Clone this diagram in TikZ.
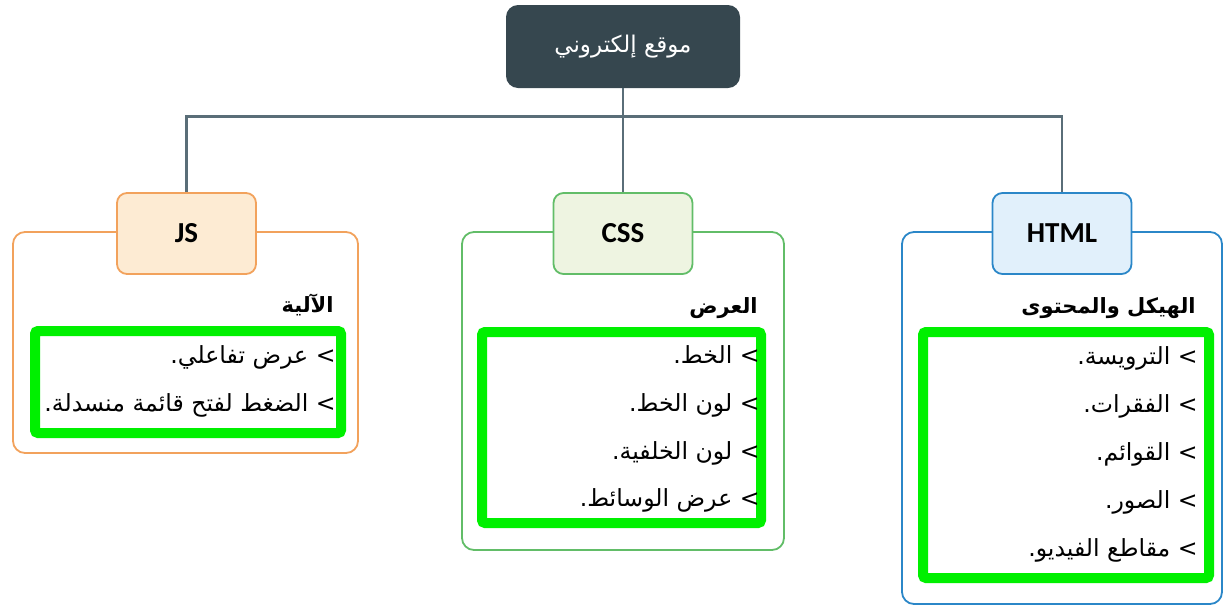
\documentclass[tikz,border=0pt]{standalone}
\usepackage{fontspec}
\setmainfont{Carlito}
\newfontfamily\arabicfont[Script=Arabic]{DejaVu Sans}
\TeXXeTstate=1
\usetikzlibrary{positioning}
\definecolor{rootfill}{HTML}{36474F}
\definecolor{linkgray}{HTML}{5A6E78}
\definecolor{jsline}{HTML}{F2A25C}
\definecolor{jsfill}{HTML}{FDEBD3}
\definecolor{cssline}{HTML}{62BD68}
\definecolor{cssfill}{HTML}{EEF4E1}
\definecolor{htmlline}{HTML}{2B87C8}
\definecolor{htmlfill}{HTML}{E1F0FB}
\definecolor{hilite}{HTML}{00F000}

\begin{document}
\begin{tikzpicture}[x=0.5pt,y=-0.5pt,
    link/.style={draw=linkgray,line width=1.2pt},
    rootbox/.style={fill=rootfill,rounded corners=6pt,minimum width=117pt,minimum height=41.5pt,
      text=white,font=\arabicfont\fontsize{11.5}{14}\selectfont},
    head/.style={rounded corners=5pt,line width=0.9pt,minimum width=69.5pt,minimum height=40.5pt,
      font=\bfseries\fontsize{14.5}{16}\selectfont},
    frame/.style={rounded corners=6pt,line width=0.9pt},
    hibox/.style={draw=hilite,line width=5pt,rounded corners=1.5pt},
    title/.style={anchor=east,inner sep=0pt,font=\arabicfont\bfseries\fontsize{10.5}{13}\selectfont},
    item/.style={anchor=east,inner sep=0pt,font=\arabicfont\fontsize{11.8}{14}\selectfont}]
  \useasboundingbox (0,0) rectangle (1232,606);

  % outer frames
  \node[frame,draw=jsline,minimum width=172.5pt,minimum height=110.5pt] (jsframe) at (185.5,342.5) {};
  \node[frame,draw=cssline,minimum width=161pt,minimum height=159pt] (cssframe) at (623,391) {};
  \node[frame,draw=htmlline,minimum width=160pt,minimum height=186pt] (htmlframe) at (1062,418) {};

  % root and headers
  \node[rootbox] (root) at (623,46.5) {\beginR موقع إلكتروني\endR};
  \node[head,draw=jsline,fill=jsfill] (js) at (186.5,233.5) {JS};
  \node[head,draw=cssline,fill=cssfill] (css) at (623,233.5) {CSS};
  \node[head,draw=htmlline,fill=htmlfill] (html) at (1062,233.5) {HTML};

  \draw[link] (root.south) -- ++(0,28) coordinate (bus);
  \draw[link] (bus) -| (js.north);
  \draw[link] (bus) -- (css.north);
  \draw[link] (bus) -| (html.north);

  % green marks
  \draw[hibox] (35,331) rectangle (341,433);
  \draw[hibox] (482,332) rectangle (761,523);
  \draw[hibox] (923,332) rectangle (1209,578);

  % JS
  \node[title] (jst) at (334,305) {\beginR الآلية\endR};
  \node[item] (js1) at (336,357) {\beginR > عرض تفاعلي.\endR};
  \node[item] (js2) at (336,405) {\beginR > الضغط لفتح قائمة منسدلة.\endR};

  % CSS
  \node[title] (csst) at (758,308) {\beginR العرض\endR};
  \node[item] (css1) at (760,355) {\beginR > الخط.\endR};
  \node[item] (css2) at (760,405) {\beginR > لون الخط.\endR};
  \node[item] (css3) at (760,453) {\beginR > لون الخلفية.\endR};
  \node[item] (css4) at (760,500) {\beginR > عرض الوسائط.\endR};

  % HTML
  \node[title] (htmlt) at (1196,308) {\beginR الهيكل والمحتوى\endR};
  \node[item] (html1) at (1198,358) {\beginR > الترويسة.\endR};
  \node[item] (html2) at (1198,406) {\beginR > الفقرات.\endR};
  \node[item] (html3) at (1198,454) {\beginR > القوائم.\endR};
  \node[item] (html4) at (1198,502) {\beginR > الصور.\endR};
  \node[item] (html5) at (1198,550) {\beginR > مقاطع الفيديو.\endR};
\end{tikzpicture}
\end{document}
